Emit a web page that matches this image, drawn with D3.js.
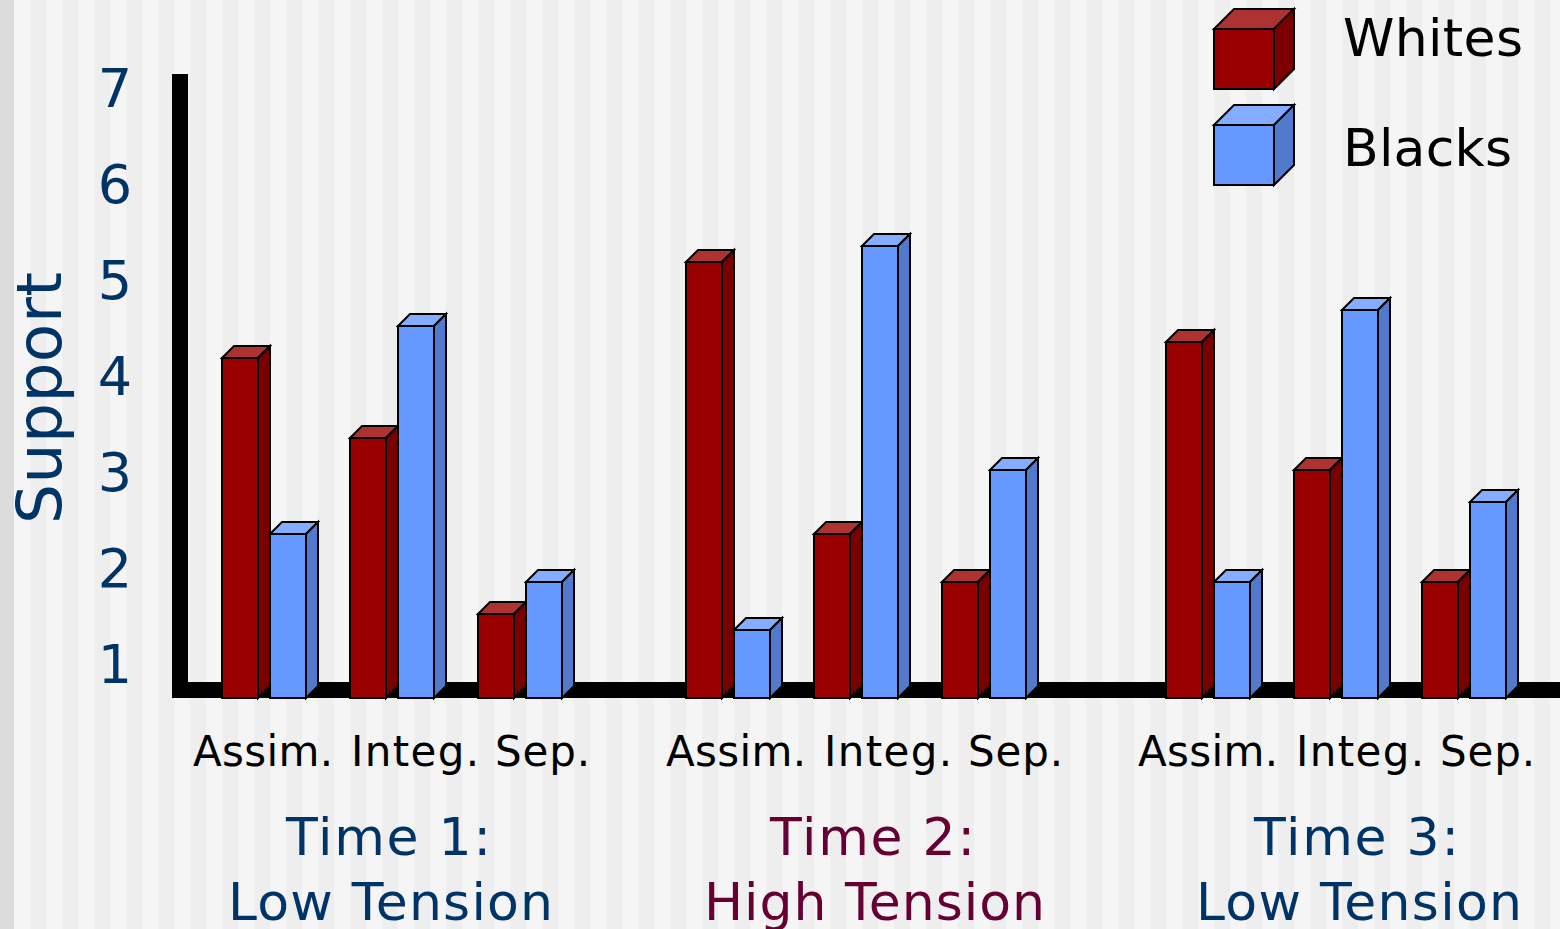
<!DOCTYPE html>
<html>
<head>
<meta charset="utf-8">
<script src="https://cdn.jsdelivr.net/npm/d3@7"></script>
<style>
  html, body { margin: 0; padding: 0; background: #f5f5f5; overflow: hidden; }
  text { font-family: "DejaVu Sans", sans-serif; }
</style>
</head>
<body>
<script>
// ======== DATA ========
const times = ['Time 1', 'Time 2', 'Time 3'];
const timeTitles = ['Time 1:', 'Time 2:', 'Time 3:'];
const timeTensions = ['Low Tension', 'High Tension', 'Low Tension'];
const strategies = ['Assim.', 'Integ.', 'Sep.'];
const races = ['Whites', 'Blacks'];
const yTicks = [1, 2, 3, 4, 5, 6, 7];
// one value per time x strategy
const whites = [4.2, 3.36, 1.53, 5.2, 2.36, 1.86, 4.36, 3.03, 1.86];
const blacks = [2.36, 4.53, 1.86, 1.36, 5.36, 3.03, 1.86, 4.7, 2.7];

const width = 1560, height = 929;
const NAVY = '#003366', WINE = '#660033';
const BAR_W = 36, DEPTH = 12;
const BASE_Y = 698;

const palette = {
    Whites: { front: '#990000', top: '#ad3333', side: '#7a0000' },
    Blacks: { front: '#6699ff', top: '#85adff', side: '#527acc' }
};

const svg = d3.select('body').append('svg')
    .attr('width', width).attr('height', height)
    .style('display', 'block');

// Background stripes
svg.append('rect').attr('width', width).attr('height', height).attr('fill', '#f5f5f5');
svg.selectAll('rect.stripe')
    .data(d3.range(30, width, 32))
    .enter().append('rect')
    .attr('class', 'stripe')
    .attr('x', d => d).attr('y', 0)
    .attr('width', 16).attr('height', height)
    .attr('fill', '#eeeeee');
svg.append('rect').attr('width', 14).attr('height', height).attr('fill', '#dcdcdc');

// Scales
const y = d3.scaleLinear().domain([1, 7]).rangeRound([665, 89]);
const xTime = d3.scaleOrdinal().domain(times).range([222, 686, 1166]);
const xStrategy = d3.scalePoint().domain(strategies).range([0, 256]);
const xRace = d3.scalePoint().domain(races).range([0, 48]);

// Axis lines
svg.append('rect').attr('x', 172).attr('y', 74).attr('width', 16).attr('height', BASE_Y - 74).attr('fill', '#000');
svg.append('rect').attr('x', 172).attr('y', 682).attr('width', width - 172).attr('height', 16).attr('fill', '#000');

// The reference face runs wider than DejaVu, so stretch the spacing to a set width
function label(txt, x, yPos, size, w, fill) {
    return svg.append('text')
        .attr('x', x).attr('y', yPos)
        .attr('font-size', size)
        .attr('fill', fill)
        .attr('textLength', w)
        .text(txt);
}

// Y tick labels
svg.selectAll('text.ytick')
    .data(yTicks)
    .enter().append('text')
    .attr('class', 'ytick')
    .attr('x', 115).attr('y', d => y(d) - 1)
    .attr('dy', '0.36em')
    .attr('text-anchor', 'middle')
    .attr('font-size', 54)
    .attr('fill', NAVY)
    .text(d => d);

svg.append('text')
    .attr('transform', 'translate(61,524) rotate(-90)')
    .attr('font-size', 63)
    .attr('fill', NAVY)
    .attr('textLength', 252)
    .text('Support');

// Draws one box: front face with a top and a side in oblique projection
function box(g, x, top, w, h, depth, c) {
    const pts = a => a.map(p => p.join(',')).join(' ');
    g.append('polygon')
        .attr('points', pts([[x, top], [x + depth, top - depth], [x + w + depth, top - depth], [x + w, top]]))
        .attr('fill', c.top);
    g.append('polygon')
        .attr('points', pts([[x + w, top], [x + w + depth, top - depth], [x + w + depth, top + h - depth], [x + w, top + h]]))
        .attr('fill', c.side);
    g.append('rect')
        .attr('x', x).attr('y', top).attr('width', w).attr('height', h)
        .attr('fill', c.front);
    g.selectAll('polygon,rect')
        .attr('stroke', '#000').attr('stroke-width', 2).attr('stroke-linejoin', 'miter');
}

const rows = [];
times.forEach((t, i) => strategies.forEach((s, j) => {
    rows.push({ time: t, strategy: s, race: 'Whites', value: whites[i * 3 + j] });
    rows.push({ time: t, strategy: s, race: 'Blacks', value: blacks[i * 3 + j] });
}));

svg.selectAll('g.bar')
    .data(rows)
    .enter().append('g')
    .attr('class', 'bar')
    .each(function (d) {
        const x = xTime(d.time) + xStrategy(d.strategy) + xRace(d.race);
        box(d3.select(this), x, y(d.value), BAR_W, BASE_Y - y(d.value), DEPTH, palette[d.race]);
    });

// Category and time labels
const labelStart = [193, 666, 1138];
const strategyStart = [0, 158, 302];
const strategyWidth = [140, 128, 95];
const titleStart = [286, 770, 1254];
const tensionStart = [228, 704, 1196];
const tensionWidth = [325, 341, 326];
times.forEach((t, i) => {
    const col = i === 1 ? WINE : NAVY;
    strategies.forEach((s, j) => {
        label(s, labelStart[i] + strategyStart[j], 766, 42, strategyWidth[j], '#000');
    });
    label(timeTitles[i], titleStart[i], 855, 52, 205, col);
    label(timeTensions[i], tensionStart[i], 920, 52, tensionWidth[i], col);
});

// Legend
const legendY = d3.scalePoint().domain(races).range([29, 125]);
const legendTextY = d3.scaleOrdinal().domain(races).range([56, 166]);
const legendWidth = d3.scaleOrdinal().domain(races).range([180, 169]);
races.forEach(r => {
    const g = svg.append('g').attr('class', 'legend');
    box(g, 1214, legendY(r), 60, 60, 20, palette[r]);
    label(r, 1343, legendTextY(r), 52, legendWidth(r), '#000');
});
</script>
</body>
</html>
